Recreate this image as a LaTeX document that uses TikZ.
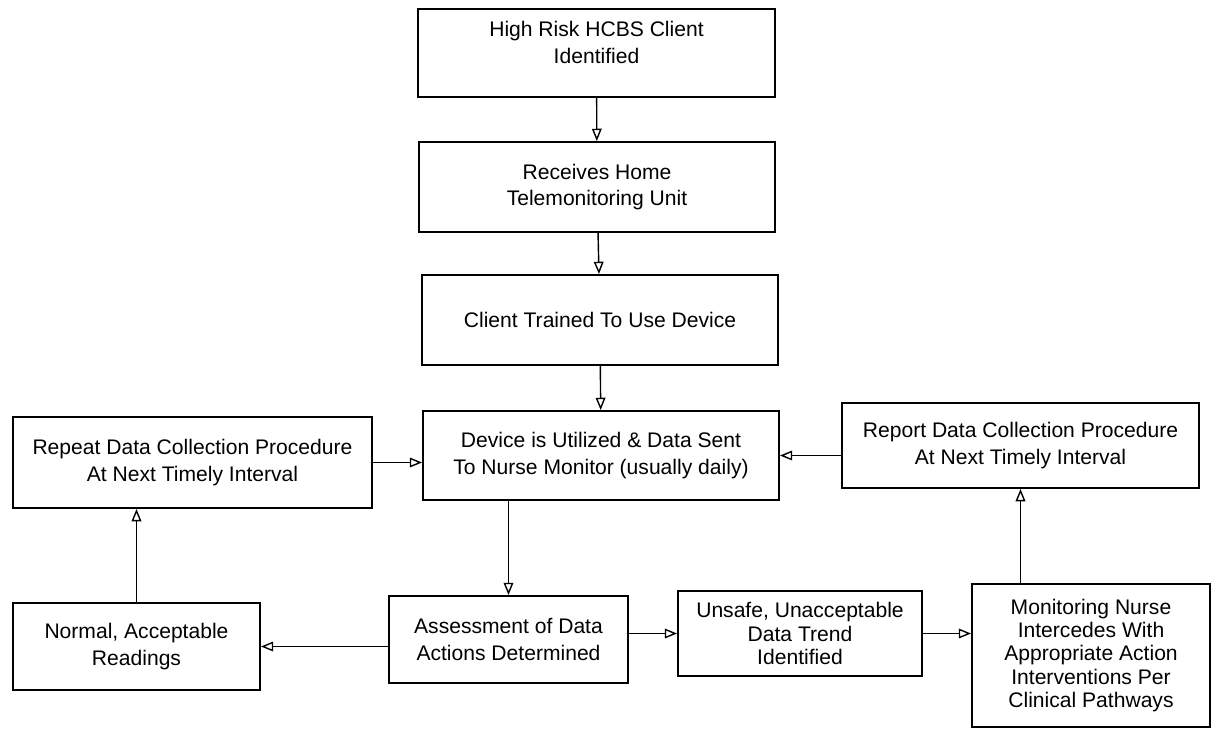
\documentclass[tikz,border=0pt]{standalone}
\usepackage{fontspec}
\setmainfont{Liberation Sans}
\usepackage{tikz}
\usetikzlibrary{arrows.meta}
\tikzset{
	flow box/.style={rectangle,draw,line width=1.1pt,align=center,inner sep=2pt,
		font=\fontsize{12}{15}\selectfont},
	tight box/.style={flow box,font=\fontsize{12}{13.2}\selectfont}
}

\begin{document}
\begin{tikzpicture}[x=0.02cm,y=-0.02cm,->,>={Triangle[open,length=7pt,width=5.5pt]},line width=0.8pt]
            \useasboundingbox (0,0) rectangle (1213,730);
            % main column
            \node [flow box,minimum width=7.14cm,minimum height=1.76cm] (ident) at (596.5,53) {High Risk HCBS Client\\Identified\\[-3pt]\mbox{}};
            \node [flow box,minimum width=7.12cm,minimum height=1.8cm] (recv) at (597,187) {Receives Home\\Telemonitoring Unit};
            \node [flow box,minimum width=7.12cm,minimum height=1.8cm] (trained) at (600,320) {Client Trained To Use Device};
            \node [flow box,minimum width=7.12cm,minimum height=1.78cm] (device) at (601,455.5) {Device is Utilized \& Data Sent\\To Nurse Monitor (usually daily)};
            % side boxes
            \node [flow box,minimum width=7.18cm,minimum height=1.82cm] (repeat) at (192.5,462.5) {Repeat Data Collection Procedure\\At Next Timely Interval};
            \node [flow box,minimum width=7.14cm,minimum height=1.7cm] (report) at (1020.5,445.5) {Report Data Collection Procedure\\At Next Timely Interval};
            % bottom row
            \node [flow box,minimum width=4.94cm,minimum height=1.74cm] (normal) at (136.5,646.5) {Normal, Acceptable\\Readings};
            \node [flow box,minimum width=4.78cm,minimum height=1.74cm] (assess) at (508.5,639.5) {Assessment of Data\\Actions Determined};
            \node [tight box,minimum width=4.88cm,minimum height=1.7cm] (unsafe) at (800,633.5) {Unsafe, Unacceptable\\Data Trend\\Identified};
            \node [tight box,minimum width=4.76cm,minimum height=2.86cm] (monit) at (1091,655.5) {Monitoring Nurse\\Intercedes With\\Appropriate Action\\Interventions Per\\Clinical Pathways};

            \draw (ident) -- (recv);
            \draw (recv) -- (trained);
            \draw (trained) -- (device);
            \draw (device.south -| assess.north) -- (assess.north);
            \draw (assess.west |- normal.east) -- (normal.east);
            \draw (normal.north) -- (normal.north |- repeat.south);
            \draw (repeat.east) -- (repeat.east -| device.west);
            \draw (assess.east |- unsafe.west) -- (unsafe.west);
            \draw (unsafe.east) -- (unsafe.east -| monit.west);
            \draw (monit.north -| report.south) -- (report.south);
            \draw (report.west |- device.east) -- (device.east);
          \end{tikzpicture}
\end{document}
